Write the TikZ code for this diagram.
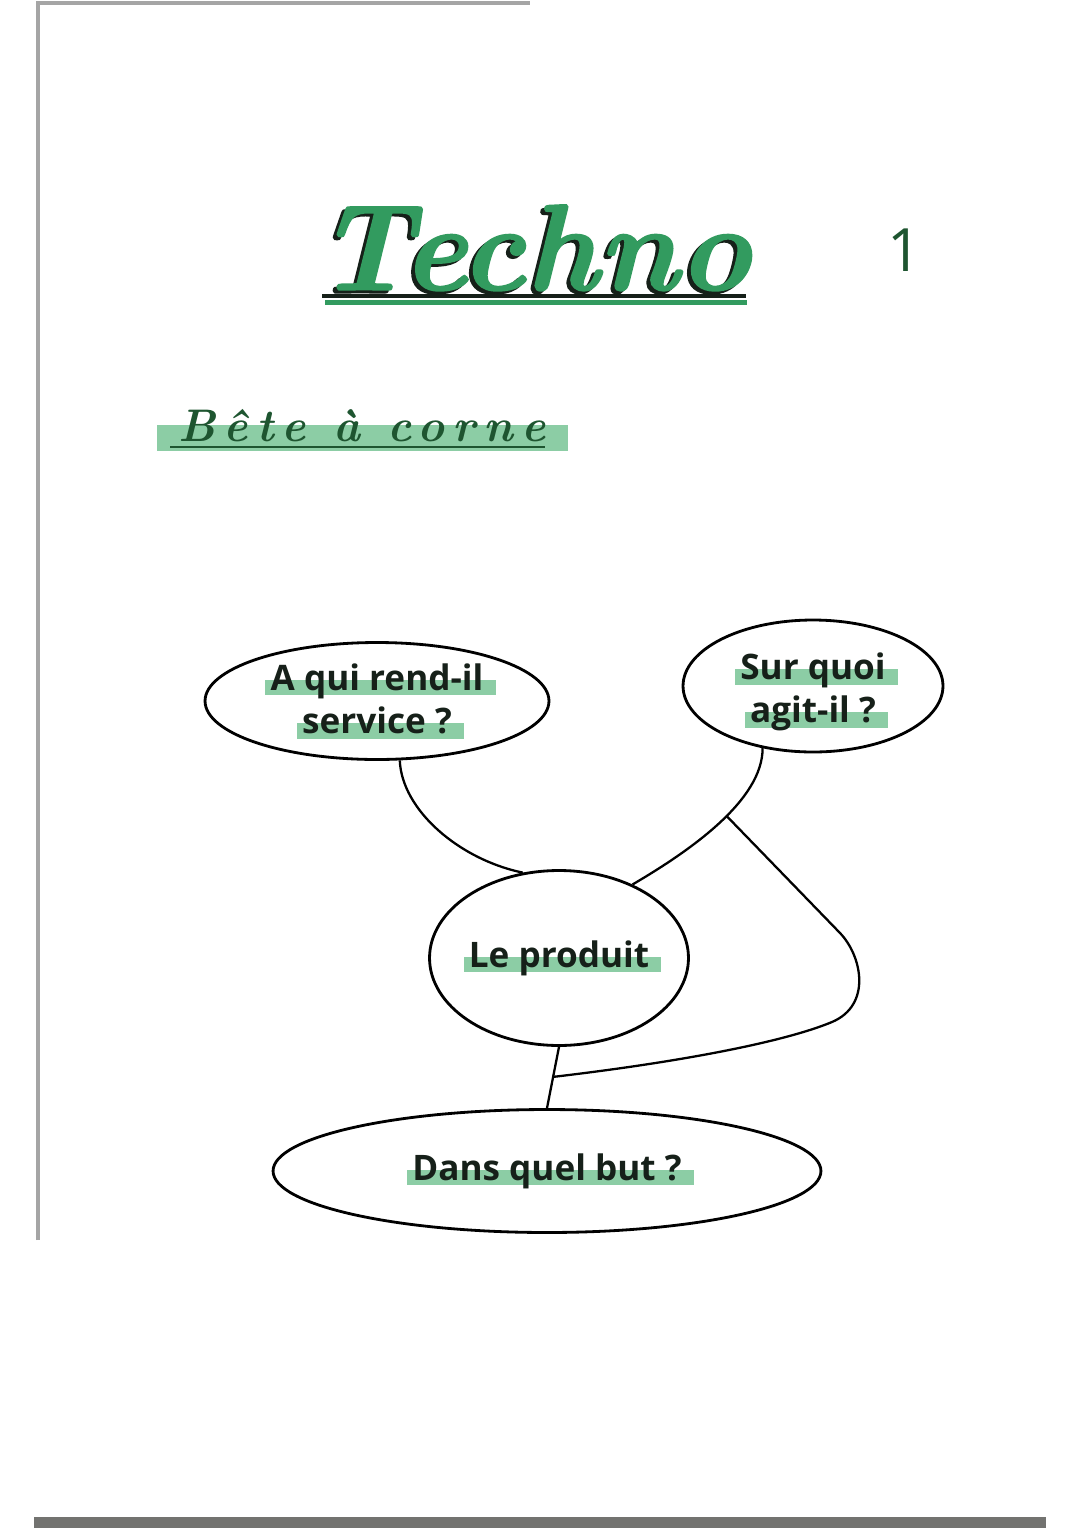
\documentclass[tikz,border=0pt]{standalone}
\usepackage{fontspec}
\usetikzlibrary{shapes.geometric,calc}
\newfontfamily\bullefont{Open Sans}
\newfontfamily\titrefont{lmroman10-bolditalic.otf}[FakeBold=1.2]
\newfontfamily\soustitrefont{lmroman10-bolditalic.otf}[LetterSpace=18]
\definecolor{encre}{RGB}{22,32,25}
\definecolor{vertfonce}{RGB}{30,85,48}
\definecolor{vertclair}{RGB}{50,155,95}
\definecolor{surligneur}{RGB}{140,205,165}
\definecolor{gris}{RGB}{165,165,165}
\definecolor{grisfonce}{RGB}{115,115,112}
\tikzstyle{titre}=[anchor=base,inner sep=0pt,text=vertclair,font=\titrefont\fontsize{70}{74}\selectfont]
\tikzstyle{soustitre}=[anchor=base,inner sep=0pt,text=vertfonce,font=\soustitrefont\fontsize{26}{30}\selectfont]
\tikzstyle{numero}=[inner sep=0pt,text=vertfonce,font=\bullefont\fontsize{34}{36}\selectfont]
\tikzstyle{bulle}=[ellipse,draw=black,line width=1.6pt,inner sep=0pt,align=center,text=encre,font=\bullefont\bfseries\fontsize{20}{24.5}\selectfont]
\tikzstyle{lien}=[draw=black,line width=1.3pt]
\newlength\surlw
\newcommand{\surligne}[1]{\settowidth{\surlw}{#1}\makebox[0pt][l]{\hspace{-0.15em}\textcolor{surligneur}{\rule[-0.15em]{\dimexpr\surlw+0.5em\relax}{0.45em}}}#1}
\newcommand{\ombre}[1]{\makebox[0pt][l]{\hspace{-2.2pt}\raisebox{-1.7pt}{\textcolor{encre}{#1}}}#1}

\begin{document}
\begin{tikzpicture}[x=0.02cm,y=-0.02cm]
    \useasboundingbox (0,0) rectangle (1080,1528);
    \fill[white] (0,0) rectangle (1080,1528);
    % bords de la feuille
    \draw[gris,line width=2.5pt] (38,1240) -- (38,3) -- (530,3);
    \fill[grisfonce] (34,1517) rectangle (1046,1528);
    % titre
    \node[titre] (titre) at (533,290) {\ombre{Techno}};
    \draw[encre,line width=1.8pt] (322,296) -- (746,296);
    \draw[vertclair,line width=3pt] (325,302.5) -- (747,302.5);
    \node[numero] (num) at (905,250) {1};
    % sous-titre
    \fill[surligneur] (157,425) rectangle (568,451);
    \draw[vertfonce,line width=1.2pt] (170,447) -- (545,447);
    \node[soustitre] (bete) at (362,441) {Bête à corne};

    % bulles
    \node[bulle,minimum width=6.88cm,minimum height=2.34cm] (qui) at (377,701) {\surligne{A qui rend-il}\\\surligne{service ?}};
    \node[bulle,minimum width=5.2cm,minimum height=2.64cm] (quoi) at (813,686) {\rule{0pt}{22pt}\surligne{Sur quoi}\\\surligne{agit-il ?}};
    \node[bulle,minimum width=5.18cm,minimum height=3.5cm] (produit) at (559,958) {\surligne{Le produit}};
    \node[bulle,minimum width=10.96cm,minimum height=2.46cm] (but) at (547,1171) {\surligne{Dans quel but ?}};

    % liens
    \draw[lien] (qui.-69) .. controls +(2,50) and +(-63,-13) .. (produit.113);
    \draw[lien] (quoi.-129) .. controls +(0,52) and +(58,-34) .. (produit.45) coordinate[pos=0.45] (j1);
    \draw[lien] (produit.south) -- (but.north) coordinate[pos=0.49] (j2);
    \draw[lien] (j1) -- (840,933) .. controls (862,956) and (872,1005) .. (832,1022) .. controls (784,1042) and (680,1062) .. (j2);
\end{tikzpicture}
\end{document}
